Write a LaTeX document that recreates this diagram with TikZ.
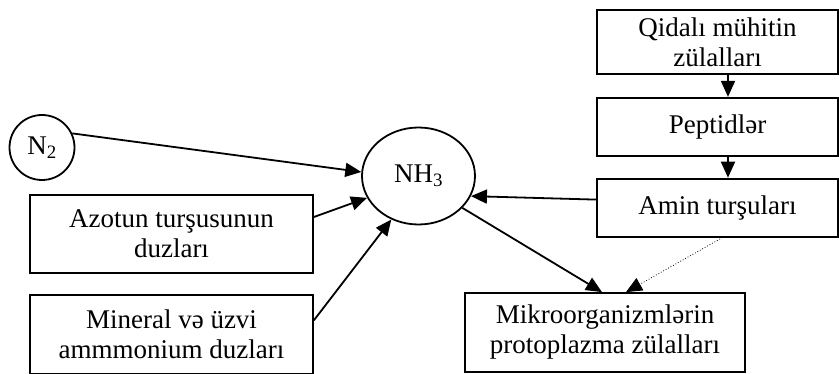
\documentclass[tikz,border=0pt]{standalone}
\usepackage{fontspec}
\setmainfont{Liberation Serif}
\usetikzlibrary{arrows.meta,positioning,shapes.geometric}

\begin{document}
\begin{tikzpicture}[x=1pt,y=1pt,>={Triangle[length=16pt,width=14pt]},line width=1.8pt,
 font=\fontsize{27}{30}\selectfont,
 box/.style={draw,rectangle,align=center,inner sep=2pt,minimum width=241pt,minimum height=58pt}]
\useasboundingbox (0,0) rectangle (839,373);
% sources of ammonia
\node[draw,circle,minimum size=65pt,inner sep=0pt] (N2) at (42,225.5) {N\textsubscript{2}};
\node[draw,ellipse,minimum width=113pt,minimum height=97pt,inner sep=0pt] (NH3) at (418.5,197) {NH\textsubscript{3}};
\node[box,minimum width=283pt,minimum height=78pt] (Azotun) at (171.5,139) {Azotun turşusunun\\duzları};
\node[box,minimum width=283pt,minimum height=79pt,below=20pt of Azotun] (Mineral) {Mineral və üzvi\\ammmonium duzları};
% protein chain
\node[box,minimum height=64pt] (Qidali) at (717.5,331) {Qidalı mühitin\\zülalları};
\node[box,below=22pt of Qidali] (Peptid) {Peptidlər};
\node[box,below=21pt of Peptid] (Amin) {Amin turşuları};
\node[box,minimum width=280pt,minimum height=79pt] (Mikro) at (605,40.5) {Mikroorganizmlərin\\protoplazma zülalları};
% arrows
\draw[->] (N2.25) -- (NH3.176);
\draw[->] ([yshift=17pt]Azotun.east) -- (NH3.203);
\draw[->] ([yshift=14pt]Mineral.east) -- (NH3.238);
\foreach \a/\b in {Qidali/Peptid,Peptid/Amin}
 \draw[->] ([xshift=10.5pt]\a.south) -- ([xshift=10.5pt]\b.north);
\draw[->] ([yshift=8pt]Amin.west) -- (NH3.-21);
\draw[->] (NH3.-36) -- ([xshift=-3pt]Mikro.north);
\draw[->,dotted,line width=.8pt] ([xshift=5pt]Amin.south) -- ([xshift=21pt]Mikro.north);
\end{tikzpicture}
\end{document}
